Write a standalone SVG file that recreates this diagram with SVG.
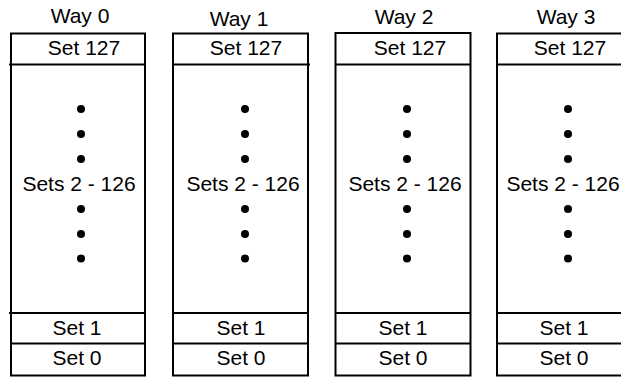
<svg xmlns="http://www.w3.org/2000/svg" width="621" height="377" viewBox="0 0 621 377">
<style>
.box{fill:#fff;stroke:#000;stroke-width:2}
.ln{stroke:#000;stroke-width:2;fill:none}
.t{font-family:"Liberation Sans",Arial,sans-serif;font-size:21px;fill:#000;text-anchor:middle}
.d{fill:#000}
</style>
<defs>
<g id="dots">
<circle class="d" cx="0" cy="109" r="4"/>
<circle class="d" cx="0" cy="134" r="4"/>
<circle class="d" cx="0" cy="159" r="4"/>
<circle class="d" cx="0" cy="209" r="4"/>
<circle class="d" cx="0" cy="234" r="4"/>
<circle class="d" cx="0" cy="258.5" r="4"/>
</g>
</defs>
<rect width="621" height="377" fill="#fff"/>
<g id="way0">
<text class="t" x="80" y="23">Way 0</text>
<rect class="box" x="11" y="33.5" width="134" height="342"/>
<line class="ln" x1="9" y1="64.5" x2="145" y2="64.5"/>
<line class="ln" x1="9" y1="313" x2="145" y2="313"/>
<line class="ln" x1="11" y1="343.5" x2="145" y2="343.5"/>
<text class="t" x="84" y="55">Set 127</text>
<use href="#dots" x="81"/>
<text class="t" x="79" y="191">Sets 2 - 126</text>
<text class="t" x="77" y="335">Set 1</text>
<text class="t" x="77" y="365">Set 0</text>
</g>
<g id="way1">
<text class="t" x="239" y="26">Way 1</text>
<rect class="box" x="173" y="33.5" width="135" height="342"/>
<line class="ln" x1="173" y1="64.5" x2="310" y2="64.5"/>
<line class="ln" x1="173" y1="313" x2="308" y2="313"/>
<line class="ln" x1="173" y1="343.5" x2="308" y2="343.5"/>
<text class="t" x="246" y="55">Set 127</text>
<use href="#dots" x="245"/>
<text class="t" x="243" y="191">Sets 2 - 126</text>
<text class="t" x="241" y="335">Set 1</text>
<text class="t" x="241" y="365">Set 0</text>
</g>
<g id="way2">
<text class="t" x="404" y="24">Way 2</text>
<rect class="box" x="335.5" y="33" width="135" height="342.5"/>
<line class="ln" x1="335.5" y1="64.5" x2="470.5" y2="64.5"/>
<line class="ln" x1="335.5" y1="313" x2="470.5" y2="313"/>
<line class="ln" x1="335.5" y1="343.5" x2="470.5" y2="343.5"/>
<text class="t" x="410" y="55">Set 127</text>
<use href="#dots" x="407"/>
<text class="t" x="405" y="191">Sets 2 - 126</text>
<text class="t" x="403" y="335">Set 1</text>
<text class="t" x="403" y="365">Set 0</text>
</g>
<g id="way3">
<text class="t" x="566" y="24">Way 3</text>
<rect class="box" x="497" y="33.5" width="135" height="342"/>
<line class="ln" x1="497" y1="64.5" x2="632" y2="64.5"/>
<line class="ln" x1="497" y1="313" x2="632" y2="313"/>
<line class="ln" x1="497" y1="343.5" x2="632" y2="343.5"/>
<text class="t" x="570" y="55">Set 127</text>
<use href="#dots" x="568"/>
<text class="t" x="563" y="191">Sets 2 - 126</text>
<text class="t" x="564" y="335">Set 1</text>
<text class="t" x="564" y="365">Set 0</text>
</g>
<g id="connectors"/>
</svg>
